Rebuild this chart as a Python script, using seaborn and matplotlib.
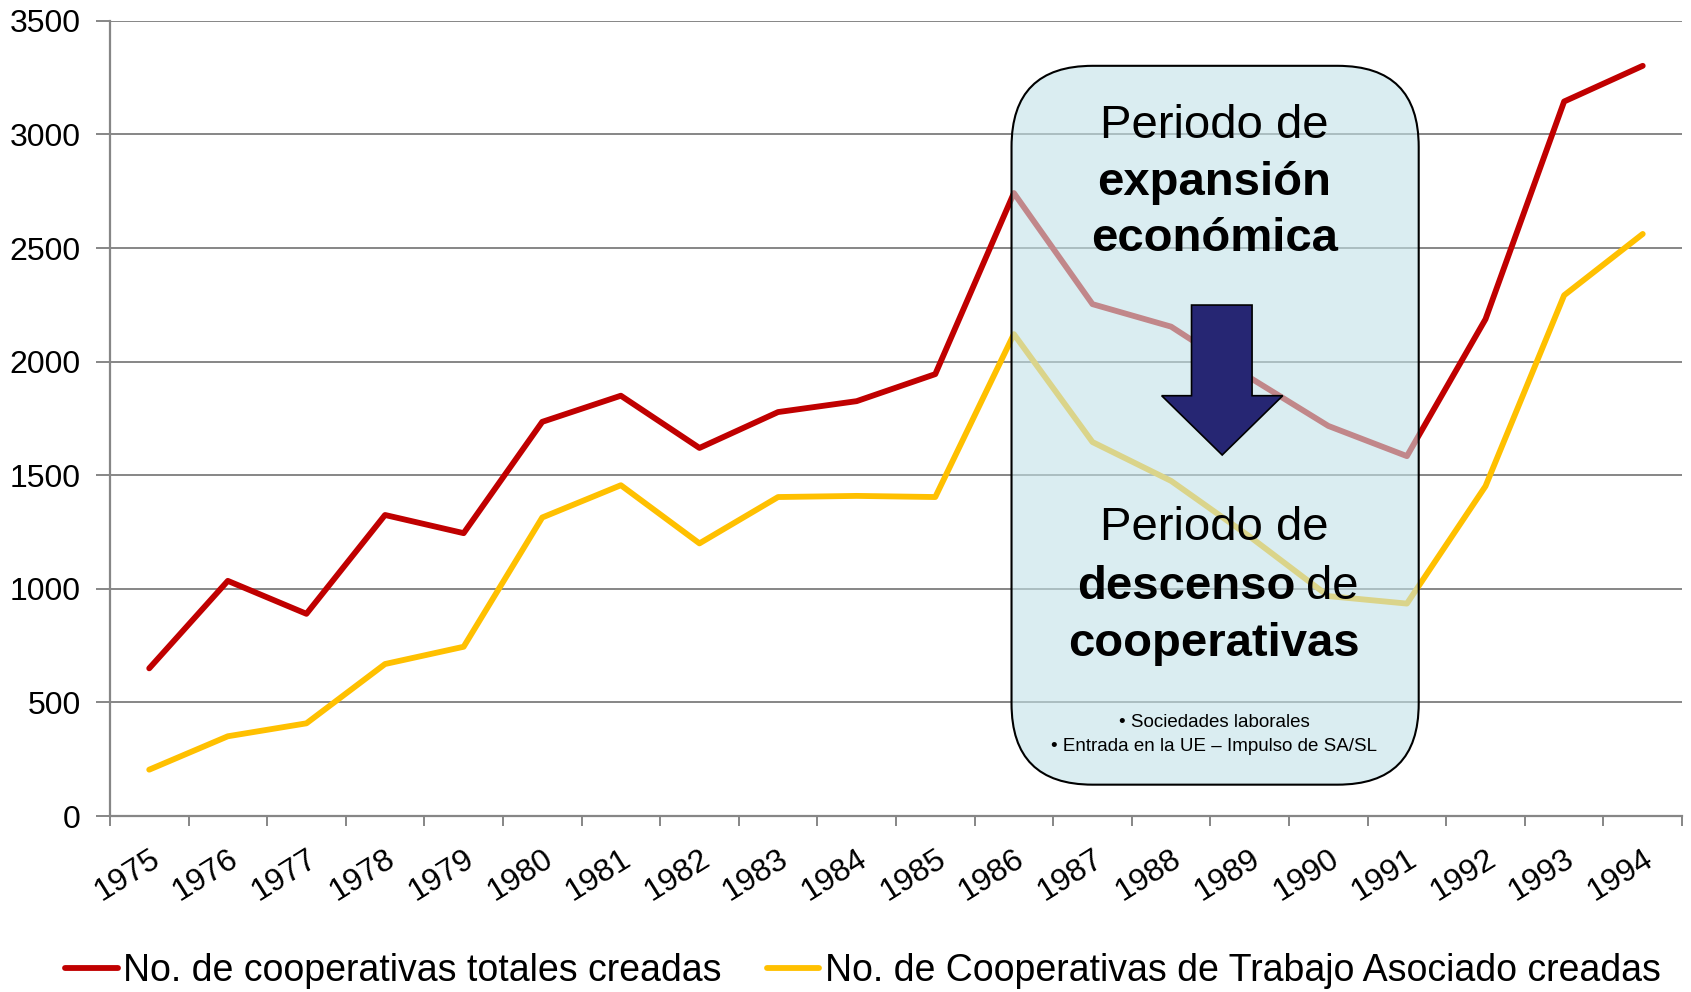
import numpy as np
import pandas as pd
import matplotlib.pyplot as plt
import seaborn as sns
from matplotlib.patches import FancyBboxPatch, Polygon

years = list(range(1975, 1995))
totales = [650, 1035, 890, 1325, 1245, 1735, 1850, 1620, 1778, 1826, 1945,
           2742, 2253, 2154, 1930, 1717, 1584, 2187, 3145, 3302]
trabajo = [204, 351, 408, 669, 745, 1314, 1456, 1200, 1404, 1409, 1404,
           2121, 1646, 1475, 1230, 968, 935, 1452, 2292, 2562]
series_names = ["No. de cooperativas totales creadas",
                "No. de Cooperativas de Trabajo Asociado creadas"]
series_colors = ["#c00000", "#ffc000"]

df = pd.DataFrame({
    "year": years * 2,
    "value": totales + trabajo,
    "serie": [series_names[0]] * len(years) + [series_names[1]] * len(years),
})

sns.set_style("white")
plt.rcParams["font.family"] = ["Liberation Sans", "DejaVu Sans"]
plt.rcParams["text.color"] = "black"
plt.rcParams["xtick.labelcolor"] = "black"
plt.rcParams["ytick.labelcolor"] = "black"

fig = plt.figure(figsize=(16.91, 9.92), dpi=100)
ax = fig.add_axes([0.065, 0.1774, 0.9297, 0.8016])

sns.lineplot(data=df, x="year", y="value", hue="serie", palette=series_colors,
             linewidth=4.2, ax=ax, legend=True, zorder=3)

ax.set_xlim(1974.5, 1994.5)
ax.set_ylim(0, 3500)
ax.set_xlabel("")
ax.set_ylabel("")

grid_col = "#868686"
ax.set_yticks(np.arange(0, 3501, 500))
ax.yaxis.grid(True, color=grid_col, linewidth=1.4, zorder=0)
ax.tick_params(axis="y", which="major", left=True, length=10, width=1.4,
               color=grid_col, labelsize=23, pad=11)
ax.set_xticks(years)
ax.set_xticklabels([str(y) for y in years], rotation=32, ha="right",
                   rotation_mode="anchor", fontsize=23)
ax.set_xticks(np.arange(1974.5, 1995, 1), minor=True)
ax.tick_params(axis="x", which="major", length=0, pad=20)
ax.tick_params(axis="x", which="minor", bottom=True, length=7, width=1.4, color=grid_col)

for s in ["top", "right"]:
    ax.spines[s].set_visible(False)
for s in ["left", "bottom"]:
    ax.spines[s].set_color(grid_col)
    ax.spines[s].set_linewidth(1.6)

# rounded panel over the 1986-1991 period
box = FancyBboxPatch((1985.97, 138), 1991.15 - 1985.97, 3302 - 138,
                     boxstyle="round,pad=0,rounding_size=1.03",
                     mutation_aspect=346, facecolor="#c2e2e8", alpha=0.6,
                     edgecolor="none", zorder=4)
ax.add_patch(box)
box_edge = FancyBboxPatch((1985.97, 138), 1991.15 - 1985.97, 3302 - 138,
                          boxstyle="round,pad=0,rounding_size=1.03",
                          mutation_aspect=346, facecolor="none",
                          edgecolor="black", linewidth=1.5, zorder=5)
ax.add_patch(box_edge)

arrow = Polygon([(1988.26, 2249), (1989.03, 2249), (1989.03, 1850), (1989.42, 1850),
                 (1988.65, 1589), (1987.88, 1850), (1988.26, 1850)],
                closed=True, facecolor="#262673", edgecolor="black",
                linewidth=1.2, zorder=6)
ax.add_patch(arrow)

cx = 1988.55
ax.text(cx, 3036, "Periodo de", ha="center", va="center", fontsize=34, zorder=7)
ax.text(cx, 2785, "expansión", ha="center", va="center", fontsize=34,
        fontweight="bold", zorder=7)
ax.text(cx, 2538, "económica", ha="center", va="center", fontsize=34,
        fontweight="bold", zorder=7)
ax.text(cx, 1267, "Periodo de", ha="center", va="center", fontsize=34, zorder=7)
ax.text(1989.58, 1010, "descenso", ha="right", va="center", fontsize=34,
        fontweight="bold", zorder=7)
ax.text(1989.72, 1010, "de", ha="left", va="center", fontsize=34, zorder=7)
ax.text(cx, 759, "cooperativas", ha="center", va="center", fontsize=34,
        fontweight="bold", zorder=7)
ax.text(cx, 413, "• Sociedades laborales", ha="center", va="center",
        fontsize=13.5, zorder=7)
ax.text(cx, 308, "• Entrada en la UE – Impulso de SA/SL", ha="center",
        va="center", fontsize=13.5, zorder=7)

sns.move_legend(ax, "center", bbox_to_anchor=(0.479, -0.195), ncol=2,
                frameon=False, title=None, fontsize=27, handlelength=1.4,
                handletextpad=0.15, columnspacing=1.2, borderaxespad=0)

fig.savefig("out.png", dpi=100)
